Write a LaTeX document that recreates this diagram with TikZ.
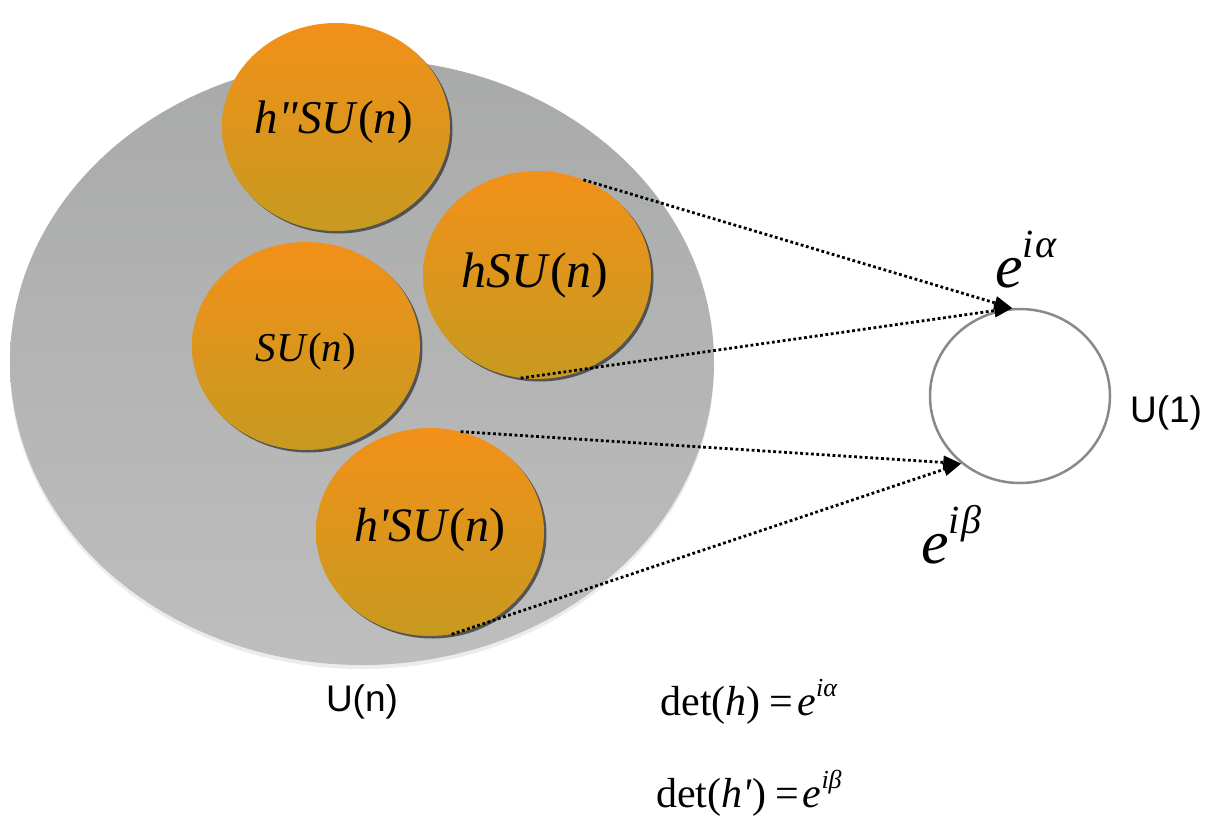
\documentclass[tikz,border=0pt]{standalone}
\usepackage{fontspec}
\setmainfont{Liberation Serif}[Ligatures=TeXOff]
\newfontfamily\labelsans{Liberation Sans}
\usetikzlibrary{shapes.geometric,shadows,arrows.meta}
\definecolor{orTop}{HTML}{F29019}
\definecolor{orBot}{HTML}{C79A1F}
\definecolor{grTop}{HTML}{A8AAA9}
\definecolor{grBot}{HTML}{BEBEBE}
\definecolor{ringgrey}{HTML}{88898D}
\begin{document}
\begin{tikzpicture}[x=1pt,y=-1pt,
  coset/.style={ellipse, inner sep=0pt, top color=orTop, bottom color=orBot,
    minimum width=228pt, minimum height=208pt,
    drop shadow={shadow xshift=2.5pt, shadow yshift=-2.5pt, opacity=0.75, fill=black!80}},
  group/.style={ellipse, inner sep=0pt, top color=grTop, bottom color=grBot,
    minimum width=704pt, minimum height=606pt,
    drop shadow={shadow xshift=0pt, shadow yshift=-4pt, opacity=0.15}},
  ring/.style={ellipse, inner sep=0pt, draw=ringgrey, line width=2.5pt,
    minimum width=180pt, minimum height=174pt},
  mapline/.style={line width=2.8pt, dash pattern=on 2.8pt off 2.6pt,
    -{Triangle[length=18pt,width=13pt]}},
  lbl/.style={inner sep=0pt, text=black},
  sanslbl/.style={inner sep=0pt, font=\labelsans\fontsize{37}{37}\selectfont}
]
\path[use as bounding box] (0,0) rectangle (1205,815);

\node[group] (un) at (362,362) {};

\node[coset] (hpp) at (336,127) {};
\node[coset] (hsu) at (537,275) {};
\node[coset] (su) at (306,346) {};
\node[coset] (hp) at (430,532) {};

\node[lbl] (thpp) at (334,122) {\fontsize{47}{47}\selectfont\textit{h"SU}(\textit{n})};
\node[lbl] (thsu) at (535,275) {\fontsize{50}{50}\selectfont\textit{hSU}(\textit{n})};
\node[lbl] (tsu) at (306,352) {\fontsize{41}{41}\selectfont\textit{SU}(\textit{n})};
\node[lbl] (thp) at (430,530) {\fontsize{48}{48}\selectfont\textit{h'SU}(\textit{n})};

\node[ring] (u1) at (1020,396) {};

\draw[mapline] (hsu.64) -- (u1.95);
\draw[mapline] (hsu.-99) -- (u1.95);
\draw[mapline] (hp.73) -- (u1.229);
\draw[mapline] (hp.-78) -- (u1.229);

\node[lbl, anchor=base west] (ealpha) at (995,287)
  {\fontsize{62}{62}\selectfont\textit{e}\raisebox{30pt}{\fontsize{40}{40}\selectfont\textit{i\kern2ptα}}};
\node[lbl, anchor=base west] (ebeta) at (921,563)
  {\fontsize{62}{62}\selectfont\textit{e}\raisebox{30pt}{\fontsize{40}{40}\selectfont\textit{i\kern2ptβ}}};

\node[sanslbl] (tu1) at (1166,413) {U(1)};
\node[sanslbl] (tun) at (362,702) {U(n)};

\node[lbl, anchor=base] (deth) at (749,715)
  {\fontsize{42}{42}\selectfont det(\textit{h})\hspace{9pt}=\hspace{4pt}\textit{e}\raisebox{19pt}{\fontsize{26}{26}\selectfont\textit{iα}}};
\node[lbl, anchor=base] (dethp) at (749,807)
  {\fontsize{42}{42}\selectfont det(\textit{h'})\hspace{9pt}=\hspace{4pt}\textit{e}\raisebox{19pt}{\fontsize{26}{26}\selectfont\textit{iβ}}};
\end{tikzpicture}
\end{document}
